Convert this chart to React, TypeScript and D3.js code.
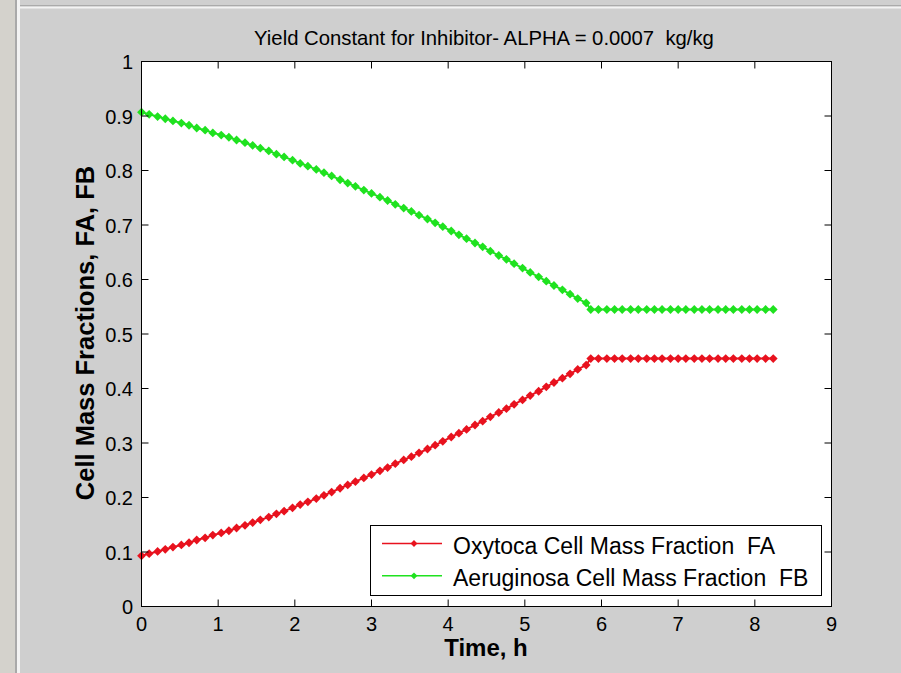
import React from "react";
import * as d3 from "d3";

// time grid (h)
const timeRising = [0, 0.10, 0.21, 0.31, 0.41, 0.52, 0.62, 0.72, 0.83, 0.93, 1.04, 1.14, 1.24, 1.35, 1.45, 1.55, 1.66, 1.76, 1.86, 1.97, 2.07, 2.17, 2.28, 2.38, 2.48, 2.59, 2.69, 2.79, 2.90, 3.00, 3.11, 3.21, 3.31, 3.42, 3.52, 3.62, 3.73, 3.83, 3.93, 4.04, 4.14, 4.24, 4.35, 4.45, 4.55, 4.66, 4.76, 4.86, 4.97, 5.07, 5.18, 5.28, 5.38, 5.49, 5.59, 5.69, 5.80];
const timeFlat = [5.86, 5.96, 6.07, 6.17, 6.27, 6.38, 6.48, 6.59, 6.69, 6.79, 6.90, 7.00, 7.10, 7.21, 7.31, 7.41, 7.52, 7.62, 7.72, 7.83, 7.93, 8.03, 8.14, 8.24];

const faRising = [0.093, 0.097, 0.101, 0.105, 0.109, 0.113, 0.117, 0.122, 0.126, 0.131, 0.135, 0.139, 0.144, 0.149, 0.154, 0.159, 0.164, 0.170, 0.175, 0.181, 0.187, 0.192, 0.198, 0.204, 0.210, 0.217, 0.223, 0.229, 0.236, 0.242, 0.249, 0.255, 0.262, 0.269, 0.275, 0.282, 0.289, 0.296, 0.303, 0.311, 0.318, 0.325, 0.333, 0.340, 0.348, 0.356, 0.363, 0.371, 0.379, 0.387, 0.395, 0.403, 0.411, 0.419, 0.427, 0.435, 0.443];
const faFlat = [0.455, 0.455, 0.455, 0.455, 0.455, 0.455, 0.455, 0.455, 0.455, 0.455, 0.455, 0.455, 0.455, 0.455, 0.455, 0.455, 0.455, 0.455, 0.455, 0.455, 0.455, 0.455, 0.455, 0.455];

const fbRising = [0.907, 0.903, 0.899, 0.895, 0.891, 0.887, 0.883, 0.878, 0.874, 0.869, 0.865, 0.861, 0.856, 0.851, 0.846, 0.841, 0.836, 0.830, 0.825, 0.819, 0.813, 0.808, 0.802, 0.796, 0.790, 0.783, 0.777, 0.771, 0.764, 0.758, 0.751, 0.745, 0.738, 0.731, 0.725, 0.718, 0.711, 0.704, 0.697, 0.689, 0.682, 0.675, 0.667, 0.660, 0.652, 0.644, 0.637, 0.629, 0.621, 0.613, 0.605, 0.597, 0.589, 0.581, 0.573, 0.565, 0.557];
const fbFlat = [0.545, 0.545, 0.545, 0.545, 0.545, 0.545, 0.545, 0.545, 0.545, 0.545, 0.545, 0.545, 0.545, 0.545, 0.545, 0.545, 0.545, 0.545, 0.545, 0.545, 0.545, 0.545, 0.545, 0.545];

const xTicks = [0, 1, 2, 3, 4, 5, 6, 7, 8, 9];
const yTicks = [0, 0.1, 0.2, 0.3, 0.4, 0.5, 0.6, 0.7, 0.8, 0.9, 1];
const yTickLabels = ["0", "0.1", "0.2", "0.3", "0.4", "0.5", "0.6", "0.7", "0.8", "0.9", "1"];

const seriesNames = ["Oxytoca Cell Mass Fraction  FA", "Aeruginosa Cell Mass Fraction  FB"];
const seriesColors = ["#e8121e", "#1fe21f"];
const titleText = "Yield Constant for Inhibitor- ALPHA = 0.0007  kg/kg";
const xLabel = "Time, h";
const yLabel = "Cell Mass Fractions, FA, FB";

const W = 901;
const H = 673;
const FONT = "'Liberation Sans', Arial, sans-serif";

export default function App() {
  const x = d3.scaleLinear().domain([0, 9]).range([141.5, 831.5]);
  const y = d3.scaleLinear().domain([0, 1]).range([606.5, 61.5]);

  const time = [...timeRising, ...timeFlat];
  const fa = [...faRising, ...faFlat];
  const fb = [...fbRising, ...fbFlat];
  const series = [fa, fb];

  const line = d3
    .line<number>()
    .x((_, i) => x(time[i]))
    .y((d) => y(d));

  const diamond = (cx: number, cy: number, r: number) =>
    `M${cx},${cy - r}L${cx + r},${cy}L${cx},${cy + r}L${cx - r},${cy}Z`;

  const [x0, x1] = x.range();
  const [y0, y1] = y.range();
  const tickLen = 7;
  const pre = { whiteSpace: "pre" as const };

  return (
    <div style={{ position: "absolute", left: 0, top: 0, width: W, height: H }}>
      <svg width={W} height={H} style={{ display: "block" }}>
        <rect x={0} y={0} width={W} height={H} fill="#cfcfcf" />
        <rect x={0} y={0} width={15} height={H} fill="#d4d2cc" />
        <rect x={15} y={0} width={2} height={H} fill="#a9a9a9" />
        <rect x={17} y={0} width={3} height={H} fill="#f3f3f3" />
        <rect x={20} y={5} width={W - 20} height={1.5} fill="#aaaaaa" />
        <rect x={20} y={6.5} width={W - 20} height={2} fill="#f3f3f3" />

        {/* plot area */}
        <rect x={x0} y={y1} width={x1 - x0} height={y0 - y1} fill="#ffffff" />

        {/* data */}
        {series.map((s, si) => (
          <g key={si}>
            <path d={line(s) || ""} fill="none" stroke={seriesColors[si]} strokeWidth={2} />
            {s.map((v, i) => (
              <path key={i} d={diamond(x(time[i]), y(v), 4.4)} fill={seriesColors[si]} />
            ))}
          </g>
        ))}

        {/* axes box */}
        <rect x={x0} y={y1} width={x1 - x0} height={y0 - y1} fill="none" stroke="#000" strokeWidth={1} />

        {/* x ticks */}
        {xTicks.map((t) => (
          <g key={"xt" + t}>
            <line x1={x(t)} x2={x(t)} y1={y0} y2={y0 - tickLen} stroke="#000" />
            <line x1={x(t)} x2={x(t)} y1={y1} y2={y1 + tickLen} stroke="#000" />
            <text x={x(t)} y={631} textAnchor="middle" fontFamily={FONT} fontSize={20} fill="#000">
              {t}
            </text>
          </g>
        ))}

        {/* y ticks */}
        {yTicks.map((t, i) => (
          <g key={"yt" + i}>
            <line x1={x0} x2={x0 + tickLen} y1={y(t)} y2={y(t)} stroke="#000" />
            <line x1={x1} x2={x1 - tickLen} y1={y(t)} y2={y(t)} stroke="#000" />
            <text x={133} y={y(t) + 7.5} textAnchor="end" fontFamily={FONT} fontSize={20} fill="#000">
              {yTickLabels[i]}
            </text>
          </g>
        ))}

        {/* legend */}
        <rect x={370.5} y={525.5} width={451} height={70} fill="#ffffff" stroke="#000" strokeWidth={1} />
        {seriesNames.map((name, i) => {
          const ly = 543.5 + i * 32.3;
          return (
            <g key={"lg" + i}>
              <line x1={382} x2={442} y1={ly} y2={ly} stroke={seriesColors[i]} strokeWidth={1.5} />
              <path d={diamond(414, ly, 3.4)} fill={seriesColors[i]} />
              <text x={453} y={ly + 10.5} fontFamily={FONT} fontSize={23} fill="#000" style={pre} xmlSpace="preserve">
                {name}
              </text>
            </g>
          );
        })}

        {/* title and labels */}
        <text x={484} y={45} textAnchor="middle" fontFamily={FONT} fontSize={20.3} fill="#000" style={pre} xmlSpace="preserve">
          {titleText}
        </text>
        <text x={486} y={656} textAnchor="middle" fontFamily={FONT} fontSize={24} fontWeight="bold" fill="#000">
          {xLabel}
        </text>
        <text
          transform={`translate(94,333) rotate(-90)`}
          textAnchor="middle"
          fontFamily={FONT}
          fontSize={25.5}
          fontWeight="bold"
          fill="#000"
        >
          {yLabel}
        </text>
      </svg>
    </div>
  );
}
